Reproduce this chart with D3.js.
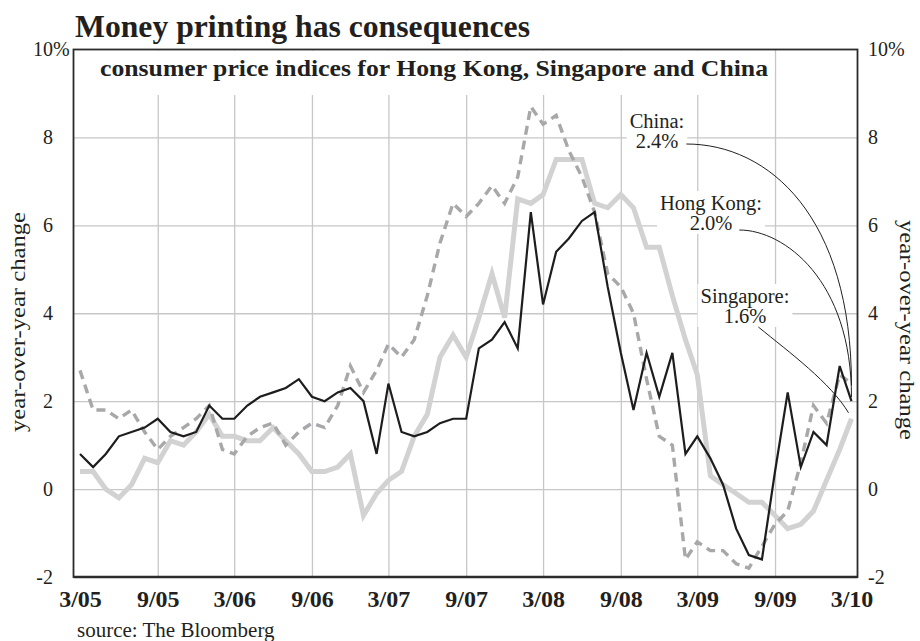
<!DOCTYPE html>
<html>
<head>
<meta charset="utf-8">
<script src="https://cdn.jsdelivr.net/npm/d3@7/dist/d3.min.js"></script>
<style>
  html, body { margin: 0; padding: 0; background: #fff; }
  svg { display: block; font-family: "Liberation Serif", "Times New Roman", serif; }
</style>
</head>
<body>
<svg id="chart" width="920" height="641"></svg>
<script>
// Year-over-year consumer price change, monthly, March 2005 to March 2010
const months = [
  "3/05","4/05","5/05","6/05","7/05","8/05","9/05","10/05","11/05","12/05",
  "1/06","2/06","3/06","4/06","5/06","6/06","7/06","8/06","9/06","10/06","11/06","12/06",
  "1/07","2/07","3/07","4/07","5/07","6/07","7/07","8/07","9/07","10/07","11/07","12/07",
  "1/08","2/08","3/08","4/08","5/08","6/08","7/08","8/08","9/08","10/08","11/08","12/08",
  "1/09","2/09","3/09","4/09","5/09","6/09","7/09","8/09","9/09","10/09","11/09","12/09",
  "1/10","2/10","3/10"
];

const hongKong = [
  0.8, 0.5, 0.8, 1.2, 1.3, 1.4, 1.6, 1.3, 1.2, 1.3,
  1.9, 1.6, 1.6, 1.9, 2.1, 2.2, 2.3, 2.5, 2.1, 2.0, 2.2, 2.3,
  2.0, 0.8, 2.4, 1.3, 1.2, 1.3, 1.5, 1.6, 1.6, 3.2, 3.4, 3.8,
  3.2, 6.3, 4.2, 5.4, 5.7, 6.1, 6.3, 4.6, 3.1, 1.8, 3.1, 2.1,
  3.1, 0.8, 1.2, 0.7, 0.1, -0.9, -1.5, -1.6, 0.4, 2.2, 0.5, 1.3,
  1.0, 2.8, 2.0
];

const singapore = [
  0.4, 0.4, 0.0, -0.2, 0.1, 0.7, 0.6, 1.1, 1.0, 1.3,
  1.7, 1.2, 1.2, 1.1, 1.1, 1.4, 1.1, 0.8, 0.4, 0.4, 0.5, 0.8,
  -0.6, -0.1, 0.2, 0.4, 1.2, 1.7, 3.0, 3.5, 3.0, 3.9, 4.9, 3.9,
  6.6, 6.5, 6.7, 7.5, 7.5, 7.5, 6.5, 6.4, 6.7, 6.4, 5.5, 5.5,
  4.4, 3.4, 2.6, 0.3, 0.1, -0.1, -0.3, -0.3, -0.6, -0.9, -0.8, -0.5,
  0.2, 0.9, 1.6
];

const china = [
  2.7, 1.8, 1.8, 1.6, 1.8, 1.3, 0.9, 1.2, 1.4, 1.6,
  1.9, 0.9, 0.8, 1.2, 1.4, 1.5, 1.0, 1.3, 1.5, 1.4, 1.9, 2.8,
  2.2, 2.7, 3.3, 3.0, 3.4, 4.4, 5.6, 6.5, 6.2, 6.5, 6.9, 6.5,
  7.1, 8.7, 8.3, 8.5, 7.7, 7.1, 6.3, 4.9, 4.6, 4.0, 2.5, 1.2,
  1.0, -1.6, -1.2, -1.4, -1.4, -1.7, -1.8, -1.3, -0.8, -0.5, 0.6, 1.9,
  1.5, 2.6, 2.4
];

const calloutNames = ["China", "Hong Kong", "Singapore"];
const xTickLabels = ["3/05","9/05","3/06","9/06","3/07","9/07","3/08","9/08","3/09","9/09","3/10"];
const yTickValues = [-2, 0, 2, 4, 6, 8, 10];
const yGridValues = [0, 2, 4, 6, 8];

const titleText = "Money printing has consequences";
const subtitleText = "consumer price indices for Hong Kong, Singapore and China";
const axisTitle = "year-over-year change";
const sourceText = "source: The Bloomberg";

// ---------------------------------------------------------------------------
const svg = d3.select("#chart");
const frame = { left: 73.5, right: 857.5, top: 49.5, bottom: 577 };

const parseMonth = d3.timeParse("%m/%y");
const dates = months.map(parseMonth);

const x = d3.scaleTime()
  .domain([dates[0], dates[dates.length - 1]])
  .range([80, 851.5]);
const y = d3.scaleLinear()
  .domain([-2, 10])
  .range([frame.bottom, frame.top]);

const gridColor = "#c7c7c9";
const ink = "#231f20";

// vertical gridlines at the inner half-year ticks
svg.append("g")
  .attr("transform", `translate(0,${frame.bottom})`)
  .call(d3.axisBottom(x)
    .tickValues(xTickLabels.slice(1, -1).map(parseMonth))
    .tickSize(-(frame.bottom - frame.top))
    .tickFormat(""))
  .call(g => {
    g.select(".domain").remove();
    g.selectAll("line").attr("stroke", gridColor).attr("stroke-width", 1.3);
  });

// horizontal gridlines
svg.append("g")
  .attr("transform", `translate(${frame.left},0)`)
  .call(d3.axisLeft(y)
    .tickValues(yGridValues)
    .tickSize(-(frame.right - frame.left))
    .tickFormat(""))
  .call(g => {
    g.select(".domain").remove();
    g.selectAll("line").attr("stroke", gridColor).attr("stroke-width", 1.3);
  });

// subtitle inside the plot, on a white band
const subBg = svg.append("rect").attr("fill", "#fff");
const subtitle = svg.append("text")
  .attr("x", 100).attr("y", 76)
  .attr("font-size", 24).attr("font-weight", "bold").attr("fill", ink)
  .attr("textLength", 668).attr("lengthAdjust", "spacingAndGlyphs")
  .text(subtitleText);
const sb = subtitle.node().getBBox();
subBg.attr("x", frame.left + 1).attr("y", frame.top + 1)
  .attr("width", sb.x + sb.width + 4 - frame.left - 1)
  .attr("height", 95 - frame.top - 1);

// callout labels (drawn with white backgrounds that break the gridlines)
const seriesForCallout = [china, hongKong, singapore];
const calloutLayout = [
  { cx: 657, y: 128, start: [8, -4], end: [0, 2],   c1: [0.5, 0],    c2: [1, 0.3] },
  { cx: 711, y: 210, start: [7, 0],  end: [0, -4],  c1: [0.4, 0],    c2: [1, 0.3] },
  { cx: 745, y: 303, start: [-8, 4], end: [-3, -6], c1: [0.35, 0.3], c2: [0.8, 0.65] }
];
const fmt = d3.format(".1f");
const calloutBg = svg.append("g");
const calloutText = svg.append("g");
const calloutStarts = [];
calloutNames.forEach((name, k) => {
  const L = calloutLayout[k];
  const vals = seriesForCallout[k];
  const t1 = calloutText.append("text")
    .attr("x", L.cx).attr("y", L.y)
    .attr("text-anchor", "middle").attr("font-size", 20.5).attr("fill", ink)
    .text(name + ":");
  const t2 = calloutText.append("text")
    .attr("x", L.cx).attr("y", L.y + 20)
    .attr("text-anchor", "middle").attr("font-size", 20.5).attr("fill", ink)
    .text(fmt(vals[vals.length - 1]) + "%");
  const b1 = t1.node().getBBox(), b2 = t2.node().getBBox();
  const x0 = Math.min(b1.x, b2.x) - 3, x1 = Math.max(b1.x + b1.width, b2.x + b2.width) + 3;
  calloutBg.append("rect")
    .attr("x", x0).attr("y", b1.y - 1)
    .attr("width", x1 - x0).attr("height", b2.y + b2.height - b1.y + 1)
    .attr("fill", "#fff");
  calloutStarts.push([b2.x + b2.width + L.start[0], L.y + 20 + L.start[1]]);
});

// data lines
const line = d3.line()
  .x((d, i) => x(dates[i]))
  .y(d => y(d));

svg.append("path").datum(singapore)
  .attr("d", line).attr("fill", "none")
  .attr("stroke", "#d2d2d3").attr("stroke-width", 5);

svg.append("path").datum(china)
  .attr("d", line).attr("fill", "none")
  .attr("stroke", "#a8a8ab").attr("stroke-width", 3.4)
  .attr("stroke-dasharray", "9,6");

svg.append("path").datum(hongKong)
  .attr("d", line).attr("fill", "none")
  .attr("stroke", "#1f1c1d").attr("stroke-width", 2.2);

// leader curves from each callout to the last value of its series
calloutNames.forEach((name, k) => {
  const L = calloutLayout[k];
  const vals = seriesForCallout[k];
  const [sx, sy] = calloutStarts[k];
  const ex = x(dates[dates.length - 1]) + L.end[0];
  const ey = y(vals[vals.length - 1]) + L.end[1];
  const dx = ex - sx, dy = ey - sy;
  const p = d3.path();
  p.moveTo(sx, sy);
  p.bezierCurveTo(sx + L.c1[0] * dx, sy + L.c1[1] * dy,
                  sx + L.c2[0] * dx, sy + L.c2[1] * dy, ex, ey);
  svg.append("path").attr("d", p.toString())
    .attr("fill", "none").attr("stroke", ink).attr("stroke-width", 1);
});

// plot frame
svg.append("rect")
  .attr("x", frame.left).attr("y", frame.top)
  .attr("width", frame.right - frame.left).attr("height", frame.bottom - frame.top)
  .attr("fill", "none").attr("stroke", "#2b2b2b").attr("stroke-width", 1.8);
svg.append("line")
  .attr("x1", frame.left).attr("x2", frame.right)
  .attr("y1", frame.bottom).attr("y2", frame.bottom)
  .attr("stroke", "#2b2b2b").attr("stroke-width", 2.4);

// y axis labels, left and right
const leftAxis = svg.append("g")
  .attr("transform", `translate(${frame.left},0)`)
  .call(d3.axisLeft(y).tickValues(yTickValues).tickSize(0).tickPadding(20.5).tickFormat(d => d))
  .call(g => g.select(".domain").remove());
leftAxis.selectAll("text")
  .attr("font-family", "Liberation Serif").attr("font-size", 20).attr("fill", ink);
leftAxis.selectAll(".tick").filter(d => d === 10).append("text")
  .attr("x", -20.5).attr("dy", "0.32em")
  .attr("text-anchor", "start")
  .attr("font-family", "Liberation Serif").attr("font-size", 20).attr("fill", ink)
  .text("%");

const rightAxis = svg.append("g")
  .attr("transform", `translate(${frame.right},0)`)
  .call(d3.axisRight(y).tickValues(yTickValues).tickSize(0).tickPadding(10.5)
    .tickFormat(d => d === 10 ? d + "%" : d))
  .call(g => g.select(".domain").remove());
rightAxis.selectAll("text")
  .attr("font-family", "Liberation Serif").attr("font-size", 20).attr("fill", ink);

// x axis labels
const bottomAxis = svg.append("g")
  .attr("transform", `translate(0,${frame.bottom})`)
  .call(d3.axisBottom(x).tickValues(xTickLabels.map(parseMonth)).tickSize(0).tickPadding(13)
    .tickFormat((d, i) => xTickLabels[i]))
  .call(g => g.select(".domain").remove());
bottomAxis.selectAll("text")
  .attr("font-family", "Liberation Serif").attr("font-size", 24)
  .attr("font-weight", "bold").attr("fill", ink);

// axis titles
svg.append("text")
  .attr("transform", "translate(25,322) rotate(-90)")
  .attr("text-anchor", "middle").attr("font-size", 20).attr("fill", ink)
  .attr("textLength", 220).attr("lengthAdjust", "spacingAndGlyphs")
  .text(axisTitle);
svg.append("text")
  .attr("transform", "translate(900,330) rotate(90)")
  .attr("text-anchor", "middle").attr("font-size", 20).attr("fill", ink)
  .attr("textLength", 220).attr("lengthAdjust", "spacingAndGlyphs")
  .text(axisTitle);

// title and source
svg.append("text")
  .attr("x", 75).attr("y", 37)
  .attr("font-size", 31).attr("font-weight", "bold").attr("fill", ink)
  .attr("textLength", 455).attr("lengthAdjust", "spacingAndGlyphs")
  .text(titleText);
svg.append("text")
  .attr("x", 77).attr("y", 637)
  .attr("font-size", 21).attr("fill", ink)
  .text(sourceText);
</script>
</body>
</html>
